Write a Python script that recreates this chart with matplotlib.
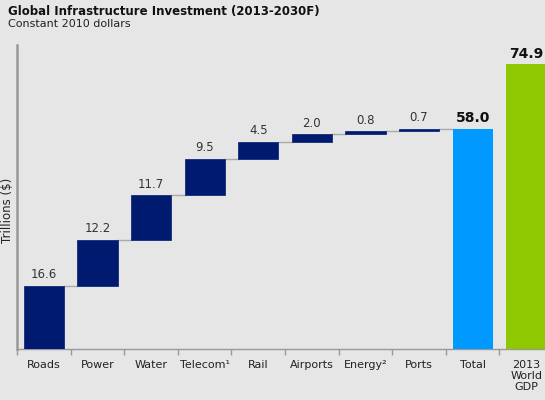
import matplotlib
matplotlib.use("Agg")
import matplotlib.pyplot as plt
import numpy as np

categories = ["Roads", "Power", "Water", "Telecom\u00b9", "Rail", "Airports", "Energy\u00b2", "Ports"]
values = [16.6, 12.2, 11.7, 9.5, 4.5, 2.0, 0.8, 0.7]
total_label = "Total"
total_value = 58.0
gdp_label = "2013\nWorld\nGDP"
gdp_value = 74.9

bg = "#e6e6e6"
navy = "#001a70"
blue = "#0099ff"
green = "#8dc800"

fig = plt.figure(figsize=(5.45, 4.0), dpi=100, facecolor=bg)
ax = fig.add_axes([17/545, 51/400, 536/545, 304/400], facecolor=bg)

w = 0.75
cum = 0.0
n = len(categories)
for i, v in enumerate(values):
    ax.bar(i, v, bottom=cum, width=w, color=navy, edgecolor=navy, linewidth=0.5, zorder=3)
    top = cum + v
    ax.text(i, top + 1.2, f"{v:.1f}", ha="center", va="bottom", fontsize=8.5, color="#333333")
    ax.plot([i + w/2, i + 1 - w/2], [top, top], color="#aaaaaa", lw=1, zorder=2)
    cum = top

ax.bar(n, total_value, width=w, color=blue, zorder=3)
ax.text(n, total_value + 1.0, f"{total_value:.1f}", ha="center", va="bottom",
        fontsize=10, fontweight="bold", color="#111111")
ax.bar(n + 1, gdp_value, width=w, color=green, zorder=3)
ax.text(n + 1, gdp_value + 1.0, f"{gdp_value:.1f}", ha="center", va="bottom",
        fontsize=10, fontweight="bold", color="#111111")

labels = categories + [total_label, gdp_label]
ax.set_xlim(-0.5, n + 1.5)
ax.set_ylim(0, 80)
ax.set_xticks(np.arange(len(labels)))
ax.set_xticklabels(labels, fontsize=8, color="#222222", linespacing=1.1)
ax.tick_params(axis="x", which="major", length=0, pad=8)
ax.set_xticks(np.arange(len(labels) + 1) - 0.5, minor=True)
ax.tick_params(axis="x", which="minor", length=4, color="#999999", width=1)
ax.set_yticks([])

for s in ["top", "right"]:
    ax.spines[s].set_visible(False)
ax.spines["left"].set_color("#999999")
ax.spines["left"].set_linewidth(1.8)
ax.spines["bottom"].set_color("#999999")
ax.spines["bottom"].set_linewidth(1)

fig.text(8/545, 1 - 210/400, "Trillions ($)", rotation=90, fontsize=8.5, color="#222222",
         ha="center", va="center")

fig.text(8/545, 1 - 12/400, "Global Infrastructure Investment (2013-2030F)", fontsize=8.5,
         fontweight="bold", color="#111111", ha="left", va="center")
fig.text(8/545, 1 - 24/400, "Constant 2010 dollars", fontsize=8, color="#222222",
         ha="left", va="center")

fig.savefig("out.png", dpi=100, facecolor=bg)
